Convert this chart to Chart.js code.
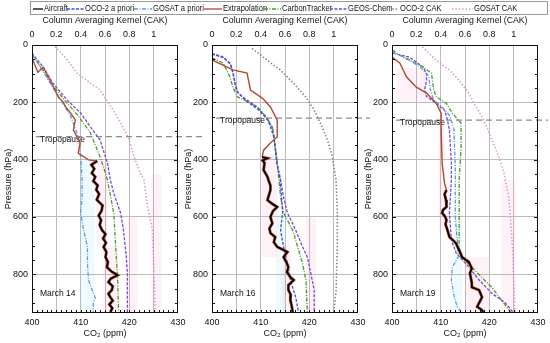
<!DOCTYPE html>
<html>
<head>
<meta charset="utf-8">
<script src="https://cdn.jsdelivr.net/npm/chart.js@4"></script>
<style>
  body { margin: 0; background: #fff; width: 550px; height: 343px; position: relative; overflow: hidden;
         font-family: 'Liberation Sans', Arial, sans-serif; color: #111; }
  canvas { position: absolute; top: 0; }
  #legend { position: absolute; left: 30px; top: 1px; width: 516px; height: 12px; border: 1px solid #999; font-size: 9px; z-index: 2; }
  .item { position: absolute; top: 0; height: 12px; line-height: 12px; white-space: nowrap; }
  .item svg { vertical-align: middle; margin-right: 1px; }
  .item span { display: inline-block; transform: scaleX(0.84); transform-origin: left center; }
</style>
</head>
<body>
<div id="legend"></div>
<canvas id="c14" width="210" height="343" style="left:0px"></canvas>
<canvas id="c16" width="210" height="343" style="left:180px"></canvas>
<canvas id="c19" width="210" height="343" style="left:360px"></canvas>
<script>
// axis ticks
const pressureTicks = [0, 200, 400, 600, 800];
const co2Grid = [400, 405, 410, 415, 420, 425, 430];
const co2Labels = [400, 410, 420, 430];
const cakTicks = [0, 0.2, 0.4, 0.6, 0.8, 1];

// March 14  ([CO2 ppm, pressure hPa], CAK as [kernel, hPa])
const m14Aircraft = [[413.4,405],[412.2,418],[412.8,432],[412.3,447],[413,460],[412.6,475],[413.5,490],[413.2,505],[413.8,520],[413.3,540],[414.5,560],[414.3,578],[413.7,595],[414.2,611],[413.9,628],[414.4,646],[415.1,660],[414.6,675],[415.2,690],[414.7,705],[415.3,722],[415.1,740],[415.6,757],[415.4,775],[416.3,790],[417.6,803],[416.2,815],[415.7,827],[416.6,842],[416.4,855],[415.7,868],[416.1,880],[416.6,892],[415.9,905],[416.5,918],[416.1,932]];
const m14Extrap = [[400,45],[401.2,95],[402.3,77],[403.7,122],[405.4,181],[406.4,199],[406.9,215],[407.9,237],[408.9,262],[408.5,297],[409.9,342],[409.5,377],[411.6,401],[413.4,405]];
const m14Apriori = [[400,30],[402,85],[404,140],[406,195],[408,250],[409.5,320],[410,391],[410.3,471],[410.3,530],[410,586],[410.6,646],[411.4,704],[411.4,762],[411.6,820],[413,883],[412.6,900],[412.6,935]];
const m14Ct = [[400,35],[402,80],[404,135],[406.8,195],[409.4,245],[412,307],[414,391],[415.1,447],[415.5,471],[416.8,586],[417.2,704],[417.6,820],[417.8,935]];
const m14Geos = [[400,28],[402.3,77],[404.3,133],[407.2,192],[410,237],[412,286],[414,332],[415.5,412],[416.1,471],[416.8,517],[418.2,586],[418.8,646],[419.3,726],[419.6,796],[419.6,935]];
const m14Cak = [[0.19,5],[0.29,52],[0.37,98],[0.48,133],[0.56,157],[0.65,216],[0.73,272],[0.79,321],[0.84,391],[0.89,447],[0.92,471],[0.95,565],[0.99,646],[1.0,762],[1.01,880],[1.01,935]];
const m14Tropopause = 320;
const m14PinkBands = [[413.3,415.6,400,700],[414.6,417.7,700,935],[419.6,421.6,600,935],[424.5,426.6,450,935]];
const m14CyanBands = [[410,412.8,400,935]];

// March 16
const m16Aircraft = [[410.3,391],[411.4,395],[410.4,403],[410.8,412],[410.6,436],[411.4,460],[411.6,471],[412,490],[412,506],[411.4,541],[412.2,552],[413.4,565],[412.5,580],[412,600],[412.4,622],[411.8,640],[412,656],[413,670],[412.7,688],[413.4,704],[415.5,722],[414.7,740],[415.3,758],[415.7,775],[415.4,792],[416.1,810],[416.8,820],[415.7,838],[415.7,855],[416.2,872],[416.1,890],[416.4,912],[416.6,935]];
const m16Extrap = [[400,52],[404.3,87],[407.2,98],[407.9,157],[410.4,186],[412,216],[413.4,262],[413.4,321],[412,342],[410.6,367],[410.3,391]];
const m16Apriori = [[400,32],[402.5,45],[403.9,70],[404.5,110],[405,160],[407,195],[409.5,225],[411.5,262],[412.7,320],[413.3,412],[414,471],[414.3,530],[414.5,586],[414.1,646],[414.7,704],[415.5,762],[416.1,820],[417.2,880],[417.8,935]];
const m16Ct = [[400,45],[402.3,63],[403.7,112],[404.3,147],[405.2,181],[407.9,202],[410,227],[411.5,260],[412.6,297],[413.4,412],[414.1,530],[414.7,586],[416.6,646],[417.6,704],[418.6,762],[419.3,820],[419.6,935]];
const m16Geos = [[400,29],[402.3,42],[403.7,63],[404.3,98],[404.7,133],[405.4,168],[407.2,192],[409.3,216],[411,251],[412.4,286],[413,356],[413.4,412],[414.1,471],[414.7,530],[415.5,586],[417.2,646],[418.6,704],[419.6,740],[420.3,796],[421,855],[421,935]];
const m16Cak = [[0.33,12],[0.45,52],[0.56,87],[0.67,133],[0.77,181],[0.84,227],[0.89,272],[0.95,332],[0.99,391],[1.01,447],[1.02,471],[1.03,586],[1.03,700],[1.02,855],[1.0,935]];
const m16Tropopause = 255;
const m16PinkBands = [[410.2,413.4,380,740],[414.5,416.2,700,935],[419.3,421.4,600,935]];
const m16CyanBands = [[413.2,415.2,590,935]];

// March 19
const m19Aircraft = [[411.2,506],[410.8,520],[411.1,541],[411.3,555],[411.1,565],[410.5,575],[410.3,586],[410.9,598],[411.2,611],[411,625],[411.4,646],[411.8,670],[412.6,682],[413.2,693],[413.5,705],[413.8,716],[414.1,728],[414.4,740],[415.8,757],[416.4,780],[416,796],[416.2,812],[416.4,830],[416.4,845],[417.9,855],[418.5,880],[417.5,913],[418.5,925],[418.8,935]];
const m19Extrap = [[400,42],[401.6,63],[403,112],[405,147],[407.1,168],[409.1,204],[410.1,238],[410.1,297],[410.3,412],[410.8,483],[411.2,506]];
const m19Apriori = [[400,25],[403,45],[406,80],[407.6,110],[407.8,150],[408.5,190],[410.2,215],[411.8,245],[412.7,290],[413,420],[413,600],[413.5,700],[413.6,740],[412.4,775],[412.2,820],[412.8,880],[413.4,913],[414.4,935]];
const m19Ct = [[400,17],[402.2,42],[406.3,76],[408.1,98],[408.3,122],[408.6,157],[409.1,181],[411.2,204],[412.4,238],[414.2,272],[414.2,356],[413.8,471],[413.8,704],[414.2,740],[416.4,775],[418.4,810],[420.5,845],[422.5,890],[424.5,935]];
const m19Geos = [[400.2,29],[403.6,42],[406.3,76],[407.1,98],[407.1,122],[406.7,157],[407.1,180],[409.1,204],[410.8,227],[411.4,262],[411.8,297],[412.2,412],[412.2,471],[411.8,586],[412.2,681],[413.2,726],[415.8,775],[417.9,820],[420.5,866],[423.3,900],[425,935]];
const m19Cak = [[0.25,7],[0.36,52],[0.47,87],[0.55,122],[0.63,168],[0.69,216],[0.74,251],[0.78,286],[0.82,332],[0.88,391],[0.92,447],[0.93,471],[0.96,530],[0.97,586],[0.99,704],[1.0,820],[1.01,935]];
const m19Tropopause = 262;
const m19PinkBands = [[409.6,410.8,250,650],[415,420,740,935],[422.5,425.4,470,935],[401,407,80,200]];
const m19CyanBands = [[412.8,414.4,600,935]];

const FONT = "'Liberation Sans', Arial, sans-serif";
Chart.defaults.font.family = FONT;
Chart.defaults.color = '#111';

const colors = {
  aircraft: '#000000',
  extrap: '#b04a32',
  oco2Apriori: '#3f51d8',
  gosatApriori: '#5b9be6',
  ct: '#4c9a2a',
  geos: '#7b45d8',
  oco2Cak: '#808080',
  gosatCak: '#d994d4'
};
const dashes = {
  solid: [],
  dash: [3, 1.5],
  dashDot: [4, 1.5, 1, 1.5],
  dot: [1.4, 2]
};

// legend (HTML)
const legendItems = [
  ['Aircraft', colors.aircraft, dashes.solid, 2, 10],
  ['OCO-2 a priori', colors.oco2Apriori, dashes.dash, 36, 17],
  ['GOSAT a priori', colors.gosatApriori, dashes.dashDot, 103, 18],
  ['Extrapolation', colors.extrap, dashes.solid, 173, 18],
  ['CarbonTracker', colors.ct, dashes.dashDot, 233, 17],
  ['GEOS-Chem', colors.geos, dashes.dash, 299, 17],
  ['OCO-2 CAK', colors.oco2Cak, dashes.dot, 351, 17],
  ['GOSAT CAK', colors.gosatCak, dashes.dot, 421, 21]
];
const legendEl = document.getElementById('legend');
legendItems.forEach(([text, color, dash, left, w]) => {
  const d = document.createElement('div');
  d.className = 'item';
  d.style.left = left + 'px';
  d.innerHTML = '<svg width="' + w + '" height="6"><line x1="0" y1="3" x2="' + w + '" y2="3" stroke="' + color +
    '" stroke-width="1.3" stroke-dasharray="' + (dash.length ? dash.join(',') : 'none') + '"/></svg><span>' + text + '</span>';
  legendEl.appendChild(d);
});

const panelDecor = {
  id: 'panelDecor',
  beforeDatasetsDraw(chart, args, opts) {
    const { ctx, chartArea: a, scales: { x, y } } = chart;
    ctx.save();
    const fillBands = (bands, color) => {
      ctx.fillStyle = color;
      bands.forEach(b => {
        const x1 = x.getPixelForValue(b[0]), x2 = x.getPixelForValue(b[1]);
        const y1 = y.getPixelForValue(b[2]), y2 = y.getPixelForValue(b[3]);
        ctx.fillRect(x1, y1, x2 - x1, y2 - y1);
      });
    };
    fillBands(opts.pink, 'rgba(245,150,195,0.12)');
    fillBands(opts.cyan, 'rgba(120,215,235,0.13)');

    // tropopause (the dashed line runs a little past the frame, as in the figure)
    const ty = y.getPixelForValue(opts.tropopause);
    ctx.strokeStyle = '#8a8a8a';
    ctx.lineWidth = 1.2;
    ctx.setLineDash([6, 4]);
    ctx.beginPath();
    ctx.moveTo(a.left + 4, ty);
    ctx.lineTo(a.right + opts.overhang, ty);
    ctx.stroke();
    ctx.setLineDash([]);
    ctx.font = '8.5px ' + FONT;
    ctx.fillStyle = '#111';
    ctx.textBaseline = 'middle';
    ctx.fillText('Tropopause', a.left + 8, ty + 3);
    ctx.fillText(opts.date, a.left + 8, a.bottom - 19);
    ctx.restore();
  },
  afterDraw(chart) {
    const { ctx, chartArea: a, scales: { x, y } } = chart;
    ctx.save();
    ctx.strokeStyle = '#111';
    ctx.lineWidth = 1;
    ctx.strokeRect(a.left + 0.5, a.top + 0.5, a.width - 1, a.height - 1);
    ctx.beginPath();
    for (let v = 401; v < 430; v++) {
      const px = Math.round(x.getPixelForValue(v)) + 0.5;
      ctx.moveTo(px, a.bottom);
      ctx.lineTo(px, a.bottom - 3);
    }
    for (let p = 50; p < 935; p += 50) {
      const py = Math.round(y.getPixelForValue(p)) + 0.5;
      const len = p % 200 === 0 ? 4 : 3;
      ctx.moveTo(a.left, py); ctx.lineTo(a.left + len, py);
      ctx.moveTo(a.right, py); ctx.lineTo(a.right - len, py);
    }
    ctx.stroke();
    ctx.restore();
  }
};

function series(pts, color, dash, width, axis) {
  return {
    data: pts.map(p => ({ x: p[0], y: p[1] })),
    borderColor: color,
    borderDash: dash,
    borderWidth: width,
    pointRadius: 0,
    tension: 0,
    fill: false,
    xAxisID: axis || 'x',
    yAxisID: 'y'
  };
}

function makePanel(id, d) {
  new Chart(document.getElementById(id).getContext('2d'), {
    type: 'line',
    data: {
      datasets: [
        series(d.aircraft, colors.aircraft, dashes.solid, 1.7),
        series(d.aircraft, colors.extrap, dashes.solid, 2.9),
        series(d.extrap, colors.extrap, dashes.solid, 1.4),
        series(d.apriori, d.aprioriColor, d.aprioriDash, 1.3),
        series(d.ct, colors.ct, dashes.dashDot, 1.3),
        series(d.geos, colors.geos, dashes.dash, 1.3),
        series(d.cak, d.cakColor, dashes.dot, 1.6, 'x2')
      ]
    },
    options: {
      responsive: false,
      animation: false,
      layout: { padding: { top: 14, right: 32, left: 0, bottom: 0 } },
      plugins: {
        legend: { display: false },
        tooltip: { enabled: false },
        panelDecor: { tropopause: d.tropopause, date: d.date, pink: d.pink, cyan: d.cyan, overhang: d.overhang }
      },
      scales: {
        x: {
          type: 'linear', position: 'bottom', min: 400, max: 430,
          afterBuildTicks: s => { s.ticks = co2Grid.map(v => ({ value: v })); },
          ticks: { font: { size: 9 }, padding: 4, autoSkip: false, maxRotation: 0,
                   callback: v => co2Labels.includes(v) ? String(v) : '' },
          grid: { drawTicks: false, lineWidth: 1,
                  color: c => (c.tick && c.tick.value > 400 && c.tick.value < 430) ? '#bcbcbc' : 'rgba(0,0,0,0)' },
          border: { display: false },
          title: { display: true, text: 'CO₂ (ppm)', font: { size: 9 }, padding: { top: 0, bottom: 4 } },
          afterFit: s => { s.height = 30; }
        },
        x2: {
          type: 'linear', position: 'top', min: 0, max: 1.2,
          afterBuildTicks: s => { s.ticks = cakTicks.map(v => ({ value: v })); },
          ticks: { font: { size: 9 }, padding: 5, autoSkip: false, maxRotation: 0, callback: v => String(v) },
          grid: { display: false, drawTicks: false },
          border: { display: false },
          title: { display: true, text: 'Column Averaging Kernel (CAK)', font: { size: 8.7 }, padding: { top: 1, bottom: 2 } },
          afterFit: s => { s.height = 31; }
        },
        y: {
          type: 'linear', reverse: true, min: 0, max: 935,
          afterBuildTicks: s => { s.ticks = pressureTicks.map(v => ({ value: v })); },
          ticks: { font: { size: 9 }, padding: 4, autoSkip: false },
          grid: { drawTicks: false, lineWidth: 1,
                  color: c => (c.tick && c.tick.value > 0) ? '#bcbcbc' : 'rgba(0,0,0,0)' },
          border: { display: false },
          title: { display: true, text: 'Pressure (hPa)', font: { size: 9 }, padding: { top: 3, bottom: 0 } },
          afterFit: s => { s.width = 32; }
        }
      }
    },
    plugins: [panelDecor]
  });
}

makePanel('c14', {
  aircraft: m14Aircraft, extrap: m14Extrap, apriori: m14Apriori, ct: m14Ct, geos: m14Geos, cak: m14Cak,
  aprioriColor: colors.gosatApriori, aprioriDash: dashes.dashDot, cakColor: colors.gosatCak,
  tropopause: m14Tropopause, date: 'March 14', pink: m14PinkBands, cyan: m14CyanBands, overhang: 27
});
makePanel('c16', {
  aircraft: m16Aircraft, extrap: m16Extrap, apriori: m16Apriori, ct: m16Ct, geos: m16Geos, cak: m16Cak,
  aprioriColor: colors.oco2Apriori, aprioriDash: dashes.dash, cakColor: colors.oco2Cak,
  tropopause: m16Tropopause, date: 'March 16', pink: m16PinkBands, cyan: m16CyanBands, overhang: 12
});
makePanel('c19', {
  aircraft: m19Aircraft, extrap: m19Extrap, apriori: m19Apriori, ct: m19Ct, geos: m19Geos, cak: m19Cak,
  aprioriColor: colors.gosatApriori, aprioriDash: dashes.dashDot, cakColor: colors.gosatCak,
  tropopause: m19Tropopause, date: 'March 19', pink: m19PinkBands, cyan: m19CyanBands, overhang: 10
});
</script>
</body>
</html>
